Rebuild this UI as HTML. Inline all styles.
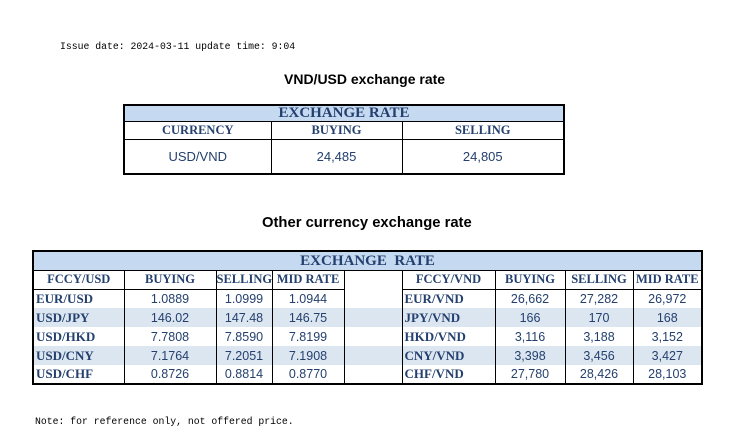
<!DOCTYPE html>
<html><head><meta charset="utf-8"><style>
body{margin:0;width:733px;height:440px;background:#fff;position:relative;overflow:hidden}
.a{position:absolute}
.mono{font-family:"Liberation Mono",monospace;font-size:9.8px;color:#000}
.ttl{font-family:"Liberation Sans",sans-serif;font-weight:bold;font-size:14px;color:#000}
table{position:absolute;border-collapse:collapse;table-layout:fixed;border:2px solid #000}
td{padding:0;text-align:center;overflow:hidden;white-space:nowrap;color:#24406e}
.h{background:#c5d9f1;font-family:"Liberation Serif",serif;font-weight:bold;font-size:15px;color:#24406e;line-height:14px}
.c{font-family:"Liberation Serif",serif;font-weight:bold;font-size:12.5px;border:1px solid #000}
.v{font-family:"Liberation Sans",sans-serif;font-size:12.5px;border-left:1px solid #000;border-right:1px solid #000}
.l{text-align:left;padding-left:2px;font-family:"Liberation Serif",serif;font-weight:bold;font-size:13px;border-left:1px solid #000;border-right:1px solid #000}
.s td{background:#dce6f1}
.e{border-left:1px solid #000;border-right:1px solid #000;background:#fff}
</style></head><body>
<div class="a mono" style="left:60px;top:41px">Issue date: 2024-03-11 update time: 9:04</div>
<div class="a ttl" style="left:284px;top:71px">VND/USD exchange rate</div>
<table style="left:123px;top:104px;width:440px">
<colgroup><col style="width:147px"><col style="width:131px"><col style="width:162px"></colgroup>
<tr style="height:16px"><td class="h" colspan="3">EXCHANGE RATE</td></tr>
<tr style="height:18px"><td class="c">CURRENCY</td><td class="c">BUYING</td><td class="c">SELLING</td></tr>
<tr style="height:35px"><td class="v" style="font-size:13px">USD/VND</td><td class="v" style="font-size:13px">24,485</td><td class="v" style="font-size:13px">24,805</td></tr>
</table>
<div class="a ttl" style="left:262px;top:215px;font-size:14.8px">Other currency exchange rate</div>
<table style="left:32px;top:250px;width:669px">
<colgroup><col style="width:91px"><col style="width:92px"><col style="width:56px"><col style="width:72px"><col style="width:58px"><col style="width:93px"><col style="width:70px"><col style="width:68px"><col style="width:69px"></colgroup>
<tr style="height:19px"><td class="h" colspan="9" style="border-bottom:1px solid #000">EXCHANGE&nbsp; RATE</td></tr>
<tr style="height:19px"><td class="c">FCCY/USD</td><td class="c">BUYING</td><td class="c">SELLING</td><td class="c">MID RATE</td><td class="e"></td><td class="c">FCCY/VND</td><td class="c">BUYING</td><td class="c">SELLING</td><td class="c">MID RATE</td></tr>
<tr style="height:19px"><td class="l">EUR/USD</td><td class="v">1.0889</td><td class="v">1.0999</td><td class="v">1.0944</td><td class="e"></td><td class="l">EUR/VND</td><td class="v">26,662</td><td class="v">27,282</td><td class="v">26,972</td></tr>
<tr class="s" style="height:19px"><td class="l">USD/JPY</td><td class="v">146.02</td><td class="v">147.48</td><td class="v">146.75</td><td class="e" style="background:#dce6f1"></td><td class="l">JPY/VND</td><td class="v">166</td><td class="v">170</td><td class="v">168</td></tr>
<tr style="height:19px"><td class="l">USD/HKD</td><td class="v">7.7808</td><td class="v">7.8590</td><td class="v">7.8199</td><td class="e"></td><td class="l">HKD/VND</td><td class="v">3,116</td><td class="v">3,188</td><td class="v">3,152</td></tr>
<tr class="s" style="height:19px"><td class="l">USD/CNY</td><td class="v">7.1764</td><td class="v">7.2051</td><td class="v">7.1908</td><td class="e" style="background:#dce6f1"></td><td class="l">CNY/VND</td><td class="v">3,398</td><td class="v">3,456</td><td class="v">3,427</td></tr>
<tr style="height:19px"><td class="l">USD/CHF</td><td class="v">0.8726</td><td class="v">0.8814</td><td class="v">0.8770</td><td class="e"></td><td class="l">CHF/VND</td><td class="v">27,780</td><td class="v">28,426</td><td class="v">28,103</td></tr>
</table>
<div class="a mono" style="left:35px;top:416px">Note: for reference only, not offered price.</div>
</body></html>
